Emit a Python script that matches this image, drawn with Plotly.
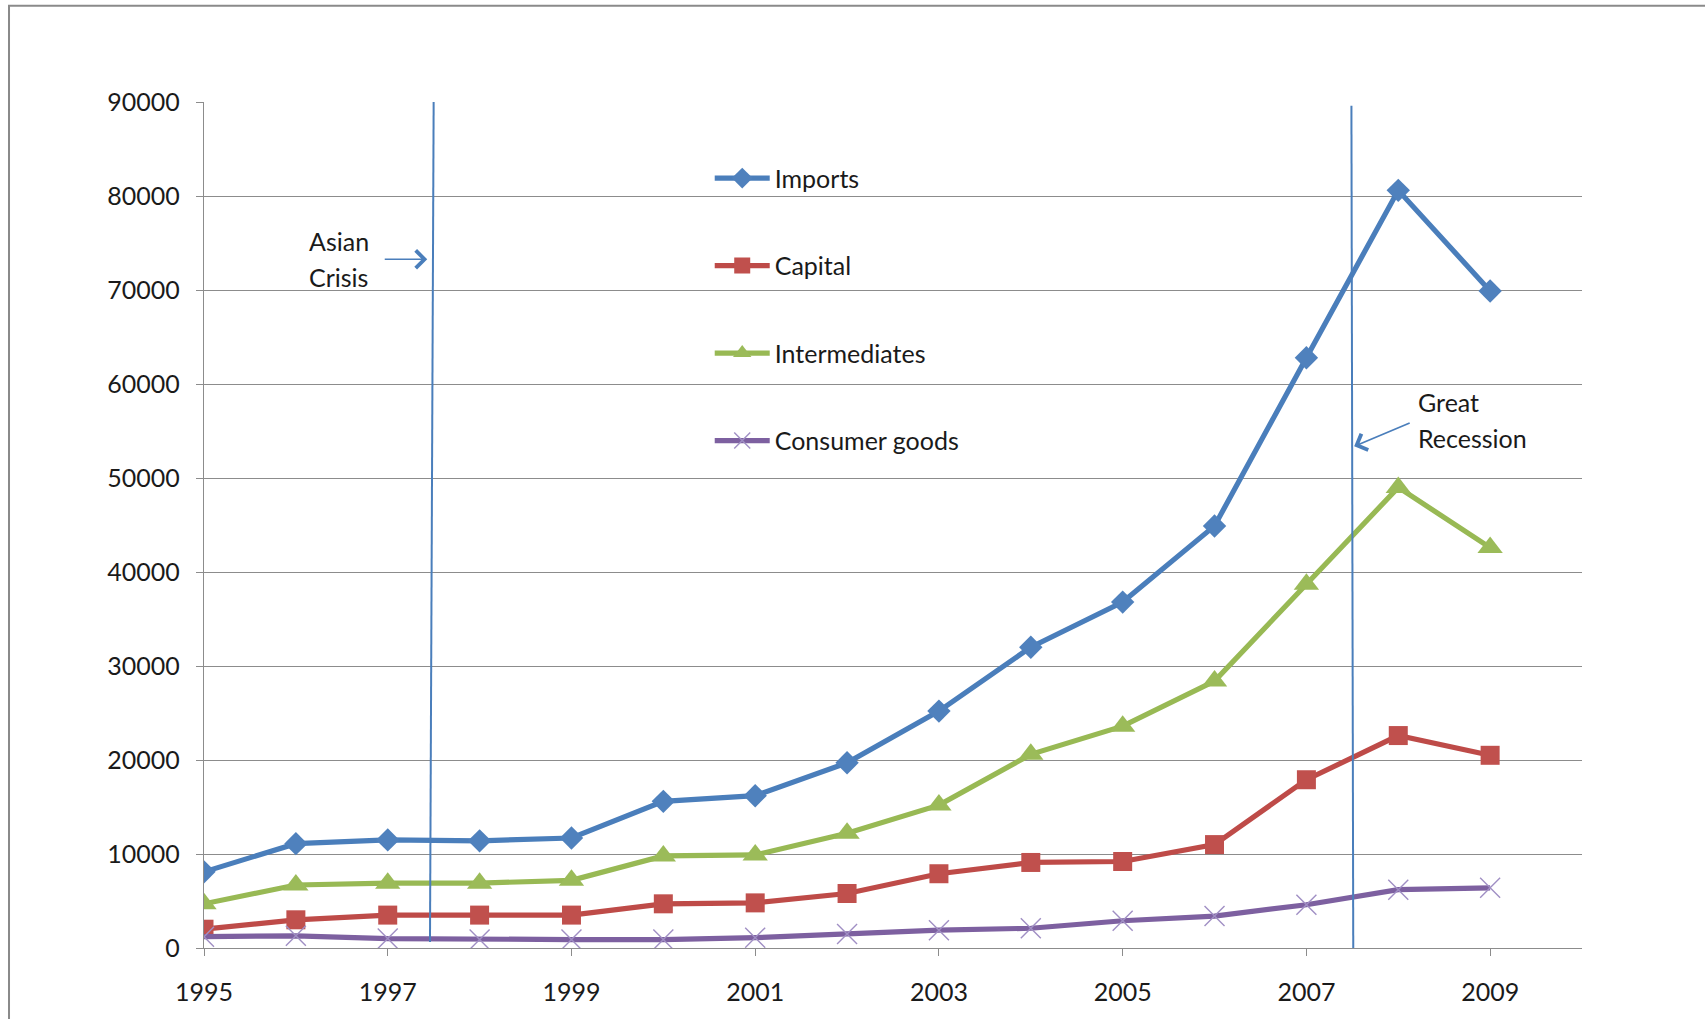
import plotly.graph_objects as go

years = list(range(1995, 2010))
imports = [8100, 11100, 11500, 11400, 11700, 15600, 16200, 19700, 25200, 32000, 36800, 44900, 62800, 80600, 69900]
capital = [2000, 3000, 3500, 3500, 3500, 4700, 4800, 5800, 7900, 9100, 9200, 11000, 17900, 22600, 20500]
intermediates = [4700, 6700, 6900, 6900, 7200, 9800, 9900, 12200, 15200, 20600, 23600, 28400, 38700, 49000, 42600]
consumer = [1200, 1300, 1000, 900, 900, 900, 1100, 1500, 1900, 2100, 2900, 3400, 4600, 6200, 6400]

y_ticks = [0, 10000, 20000, 30000, 40000, 50000, 60000, 70000, 80000, 90000]
x_ticks = [1995, 1997, 1999, 2001, 2003, 2005, 2007, 2009]

FONT = "Lato"
FS = 25
TXT = "#1a1a1a"
GRID = "#8c8c8c"
VLINE = "#4a7ebb"

fig = go.Figure()

series = [
    ("Imports", imports, "#4a7ebb", dict(symbol="diamond", size=18, color="#4f81bd")),
    ("Capital", capital, "#be4b48", dict(symbol="square", size=19, color="#c0504d")),
    ("Intermediates", intermediates, "#98b954", dict(symbol="triangle-up", size=22, color="#9bbb59")),
    ("Consumer goods", consumer, "#7d60a0", dict(symbol="x-thin", size=20, color="#8064a2",
                                                line=dict(color="#a08fc4", width=1.4))),
]

for i, (name, vals, lc, mk) in enumerate(series):
    fig.add_trace(go.Scatter(
        x=years, y=vals, name=name, mode="lines+markers",
        line=dict(color=lc, width=5.2),
        marker=mk,
        legendgroup=f"g{i}",
    ))

# Vertical event lines
fig.add_shape(type="line", xref="x", yref="y", x0=1997.5, y0=90400, x1=1997.46, y1=650,
              line=dict(color=VLINE, width=2))
fig.add_shape(type="line", xref="x", yref="y", x0=2007.49, y0=89600, x1=2007.51, y1=0,
              line=dict(color=VLINE, width=2))

# Chart border (left and top)
fig.add_shape(type="path", xref="paper", yref="paper",
              path="M -0.1415,-0.2 L -0.1415,1.1138 L 1.1,1.1138",
              line=dict(color="#8a8a8a", width=2))

# Annotations
annfont = dict(family=FONT, size=FS, color=TXT)
fig.add_annotation(x=1996.12, y=75260, xref="x", yref="y", text="Asian", showarrow=False,
                   xanchor="left", yanchor="middle", font=annfont)
fig.add_annotation(x=1996.12, y=71430, xref="x", yref="y", text="Crisis", showarrow=False,
                   xanchor="left", yanchor="middle", font=annfont)
fig.add_annotation(x=1997.43, y=73270, xref="x", yref="y", text="", showarrow=True,
                   ax=-44, ay=0, arrowhead=4, arrowsize=2.0, arrowwidth=1.7, arrowcolor=VLINE)

fig.add_annotation(x=2008.19, y=58100, xref="x", yref="y", text="Great", showarrow=False,
                   xanchor="left", yanchor="middle", font=annfont)
fig.add_annotation(x=2008.19, y=54270, xref="x", yref="y", text="Recession", showarrow=False,
                   xanchor="left", yanchor="middle", font=annfont)
fig.add_annotation(x=2007.52, y=53370, xref="x", yref="y", text="", showarrow=True,
                   ax=57, ay=-24, arrowhead=4, arrowsize=2.0, arrowwidth=1.7, arrowcolor=VLINE)

fig.update_layout(
    width=1705, height=1019,
    margin=dict(l=204, r=123, t=102, b=71, autoexpand=False),
    paper_bgcolor="white", plot_bgcolor="white",
    font=dict(family=FONT, size=FS, color=TXT),
    showlegend=True,
    legend=dict(x=0.367, y=0.937, xanchor="left", yanchor="top",
                bgcolor="rgba(0,0,0,0)", font=dict(family=FONT, size=FS, color=TXT),
                tracegroupgap=52, itemwidth=55),
)

fig.update_xaxes(range=[1995, 2010], tickmode="array", tickvals=x_ticks,
                 ticktext=[str(v) for v in x_ticks],
                 showgrid=False, zeroline=False, showline=True, linecolor=GRID, linewidth=1.4,
                 ticks="outside", ticklen=7, tickcolor=GRID, ticklabelstandoff=15,
                 tickfont=dict(family=FONT, size=FS, color=TXT))
fig.update_yaxes(range=[0, 90000], tickmode="array", tickvals=y_ticks,
                 ticktext=[str(v) for v in y_ticks],
                 showgrid=True, gridcolor=GRID, gridwidth=1.4, zeroline=False,
                 showline=True, linecolor=GRID, linewidth=1.4,
                 ticks="outside", ticklen=7, tickcolor=GRID, ticklabelstandoff=11,
                 tickfont=dict(family=FONT, size=FS, color=TXT))

fig.write_html("out.html", config={"displayModeBar": False},
               post_script="document.body.style.margin='0px'; document.body.style.overflow='hidden';")
